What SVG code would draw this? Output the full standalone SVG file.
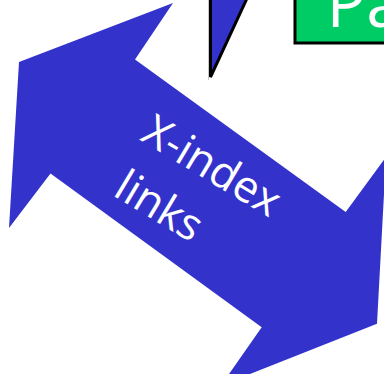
<svg xmlns="http://www.w3.org/2000/svg" width="384" height="374" viewBox="0 0 384 374">
<style>
.blue{fill:#3333CC}
.lbl{font-family:"Open Sans","Liberation Sans",Arial,sans-serif;fill:#FFFFFF}
</style>
<rect x="0" y="0" width="384" height="374" fill="#FFFFFF"/>
<g id="top-arrow">
<line x1="208.5" y1="0" x2="208.5" y2="80" stroke="#C8C8C8" stroke-width="1"/>
<polygon class="blue" points="210.5,-20 255.5,-20 210.5,77" stroke="#000000" stroke-width="3" stroke-linejoin="miter"/>
</g>
<g id="node-pa">
<rect x="295" y="-10" width="100" height="53" fill="#00CC66" stroke="#000000" stroke-width="3"/>
<text class="lbl" x="326.5" y="27" font-size="66">Pa</text>
</g>
<g id="connectors">
<g id="xindex-links">
<polygon class="blue" points="19,62 173,3 135,59.5 345.7,212 386,157 377,323.7 221,385.5 261.7,327.3 50.5,173.5 9,228"/>
<text class="lbl" font-size="44" transform="translate(139,139.5) rotate(31)"><tspan x="0" y="0">X-index</tspan><tspan x="5" y="61.5">links</tspan></text>
</g>
</g>
</svg>
